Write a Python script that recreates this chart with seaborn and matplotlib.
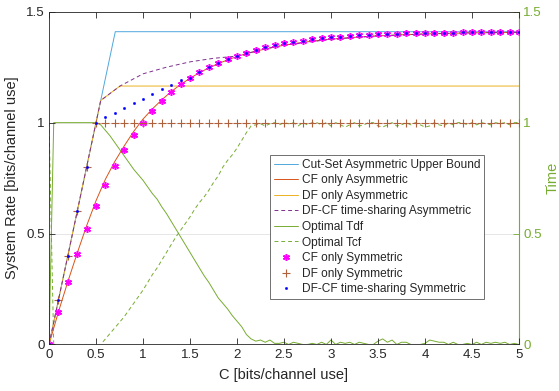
import matplotlib
matplotlib.use("Agg")
import matplotlib.pyplot as plt
import seaborn as sns

sns.set_style("ticks")
plt.rcParams["font.family"] = ["Liberation Sans", "DejaVu Sans"]

# ---- asymmetric bounds (rate vs. capacity C) ----
cut_c = [0, 0.705, 5.0]
cut_rate = [0, 1.41, 1.41]

df_c = [0, 0.55, 0.755, 5.0]
df_rate = [0, 1.10, 1.165, 1.165]

dfcf_c = [0, 0.55, 0.755, 1.0, 1.25, 1.5, 1.75, 2.0, 2.1, 2.2, 2.3, 2.4,
          2.5, 3.0, 3.5, 4.0, 4.5, 5.0]
dfcf_rate = [0, 1.10, 1.165, 1.22, 1.25, 1.274, 1.29, 1.300, 1.311, 1.322,
             1.332, 1.341, 1.349, 1.376, 1.391, 1.400, 1.405, 1.407]

# ---- values on a 0.1 grid of C ----
c_grid = [round(0.1 * i, 1) for i in range(51)]

cf_asym = [0, 0.147, 0.283, 0.412, 0.535, 0.648, 0.745, 0.825, 0.895, 0.96,
           1.016, 1.062, 1.103, 1.14, 1.172, 1.2, 1.225, 1.247, 1.266, 1.283,
           1.298, 1.311, 1.322, 1.332, 1.341, 1.349, 1.356, 1.362, 1.367, 1.372,
           1.376, 1.38, 1.383, 1.386, 1.389, 1.391, 1.393, 1.395, 1.397, 1.398,
           1.4, 1.401, 1.402, 1.403, 1.404, 1.405, 1.405, 1.406, 1.406, 1.407,
           1.407]

cf_sym = [0, 0.147, 0.281, 0.407, 0.52, 0.625, 0.721, 0.804, 0.876, 0.943,
          1.0, 1.052, 1.099, 1.139, 1.172, 1.203, 1.228, 1.250, 1.270, 1.287,
          1.302, 1.316, 1.328, 1.339, 1.349, 1.357, 1.364, 1.370, 1.376, 1.381,
          1.385, 1.388, 1.391, 1.394, 1.396, 1.398, 1.400, 1.401, 1.402, 1.403,
          1.404, 1.405, 1.406, 1.406, 1.407, 1.407, 1.408, 1.408, 1.409, 1.409,
          1.41]

df_sym = [0, 0.2, 0.4, 0.6, 0.8, 1, 1, 1, 1, 1,
          1, 1, 1, 1, 1, 1, 1, 1, 1, 1,
          1, 1, 1, 1, 1, 1, 1, 1, 1, 1,
          1, 1, 1, 1, 1, 1, 1, 1, 1, 1,
          1, 1, 1, 1, 1, 1, 1, 1, 1, 1,
          1]

dfcf_sym = [0, 0.2, 0.4, 0.6, 0.8, 1.0, 1.024, 1.045, 1.067, 1.087,
            1.108, 1.129, 1.150, 1.169, 1.191, 1.203, 1.228, 1.250, 1.270, 1.287,
            1.302, 1.316, 1.328, 1.339, 1.349, 1.357, 1.364, 1.370, 1.376, 1.381,
            1.385, 1.388, 1.391, 1.394, 1.396, 1.398, 1.400, 1.401, 1.402, 1.403,
            1.404, 1.405, 1.406, 1.406, 1.407, 1.407, 1.408, 1.408, 1.409, 1.409,
            1.41]

# ---- optimal time fractions on a 0.05 grid of C ----
c_time = [round(0.05 * i, 2) for i in range(101)]

t_df = [0, 1, 1, 1, 1, 1, 1, 1, 1, 1,
        1, 0.99, 0.965, 0.94, 0.91, 0.88, 0.85, 0.82, 0.79, 0.765,
        0.74, 0.71, 0.68, 0.655, 0.62, 0.59, 0.555, 0.52, 0.485, 0.45,
        0.415, 0.38, 0.345, 0.31, 0.28, 0.245, 0.21, 0.185, 0.16, 0.13,
        0.105, 0.08, 0.045, 0.025, 0.015, 0.02, 0.01, 0.02, 0.005, 0.005,
        0.01, 0.0, 0.01, 0.005, 0.0, 0.0, 0.005, 0.0, 0.01, 0.0,
        0.02, 0.0, 0.01, 0.005, 0.01, 0.0, 0.01, 0.005, 0.0, 0.0,
        0.015, 0.025, 0.01, 0.02, 0.0, 0.01, 0.01, 0.0, 0.0, 0.0,
        0.005, 0.02, 0.015, 0.01, 0.01, 0.0, 0.01, 0.0, 0.0, 0.005,
        0.0, 0.01, 0.0, 0.01, 0.005, 0.01, 0.005, 0.01, 0.0, 0.005,
        0.0]

t_cf = [1, 0, 0, 0, 0, 0, 0, 0, 0, 0,
        0, 0, 0.025, 0.05, 0.075, 0.1, 0.125, 0.155, 0.185, 0.215,
        0.245, 0.28, 0.315, 0.345, 0.38, 0.415, 0.45, 0.485, 0.515, 0.545,
        0.575, 0.61, 0.64, 0.665, 0.695, 0.73, 0.76, 0.8, 0.83, 0.855,
        0.885, 0.92, 0.955, 0.985, 0.99, 0.995, 0.985, 0.995, 1.0, 0.99,
        1.0, 0.995, 1.0, 0.985, 1.0, 0.99, 1.0, 1.0, 0.99, 1.0,
        0.985, 1.0, 0.99, 0.98, 0.99, 1.0, 0.985, 0.99, 1.0, 1.0,
        0.985, 0.98, 0.99, 1.0, 0.985, 0.99, 1.0, 0.99, 1.0, 0.99,
        0.98, 0.985, 1.0, 0.99, 0.985, 1.0, 0.99, 1.0, 1.0, 0.99,
        1.0, 0.99, 1.0, 0.995, 0.99, 1.0, 0.995, 1.0, 0.99, 1.0,
        1.0]

labels = ["Cut-Set Asymmetric Upper Bound", "CF only Asymmetric",
          "DF only Asymmetric", "DF-CF time-sharing Asymmetric",
          "Optimal Tdf", "Optimal Tcf", "CF only Symmetric",
          "DF only Symmetric", "DF-CF time-sharing Symmetric"]

AX_COLOR = "#262626"
GREEN = "#77AC30"
MAGENTA = "#FF00FF"
PLUS_COLOR = "#B0603A"
BLUE = "#0000FF"
LW = 0.7
DASH = (0, (4, 3))

fig = plt.figure(figsize=(5.59, 3.91), dpi=100)
ax = fig.add_axes([0.0877, 0.119, 0.8407, 0.851])
ax2 = ax.twinx()
ax.set_zorder(ax2.get_zorder() + 1)
ax.patch.set_visible(False)

# right axis: time fractions
sns.lineplot(x=c_time, y=t_df, ax=ax2, color=GREEN, lw=LW, sort=False,
             estimator=None, label=labels[4])
sns.lineplot(x=c_time, y=t_cf, ax=ax2, color=GREEN, lw=LW, sort=False,
             estimator=None, linestyle=DASH, label=labels[5])

# left axis: rates
sns.lineplot(x=cut_c, y=cut_rate, ax=ax, color="#4FA8DC", lw=LW,
             estimator=None, label=labels[0])
sns.lineplot(x=c_grid, y=cf_asym, ax=ax, color="#D95319", lw=LW,
             estimator=None, label=labels[1])
sns.lineplot(x=df_c, y=df_rate, ax=ax, color="#EDB120", lw=LW,
             estimator=None, label=labels[2])
sns.lineplot(x=dfcf_c, y=dfcf_rate, ax=ax, color="#7E2F8E", lw=LW,
             estimator=None, linestyle=DASH, label=labels[3])
sns.lineplot(x=c_grid, y=cf_sym, ax=ax, color=MAGENTA, linestyle="none",
             marker=(6, 2, 0), markersize=5, markeredgewidth=1.1,
             markeredgecolor=MAGENTA, estimator=None, label=labels[6])
sns.lineplot(x=c_grid, y=df_sym, ax=ax, color=PLUS_COLOR, linestyle="none",
             marker="+", markersize=5.5, markeredgewidth=0.8,
             markeredgecolor=PLUS_COLOR, estimator=None, label=labels[7])
sns.lineplot(x=c_grid, y=dfcf_sym, ax=ax, color=BLUE, linestyle="none",
             marker=".", markersize=3.2, markeredgewidth=0.4,
             markeredgecolor=BLUE, estimator=None, label=labels[8])

for a in (ax, ax2):
    leg = a.get_legend()
    if leg is not None:
        leg.remove()

ticks_y = [0, 0.5, 1, 1.5]
tick_labels_y = ["0", "0.5", "1", "1.5"]
ticks_x = [0, 0.5, 1, 1.5, 2, 2.5, 3, 3.5, 4, 4.5, 5]
tick_labels_x = ["0", "0.5", "1", "1.5", "2", "2.5", "3", "3.5", "4", "4.5", "5"]

ax.set_xlim(0, 5)
ax.set_ylim(0, 1.5)
ax2.set_ylim(0, 1.5)
ax.set_xticks(ticks_x, tick_labels_x)
ax.set_yticks(ticks_y, tick_labels_y)
ax2.set_yticks(ticks_y, tick_labels_y)

ax.set_xlabel("C [bits/channel use]", fontsize=10.5, color=AX_COLOR, labelpad=5)
ax.set_ylabel("System Rate [bits/channel use]", fontsize=10.5, color=AX_COLOR,
              labelpad=5)
ax2.set_ylabel("Time", fontsize=10.5, color=GREEN, labelpad=3)

ax.tick_params(axis="both", direction="in", length=4, width=0.6,
               labelsize=9.6, colors=AX_COLOR, top=True, right=False, pad=3)
ax2.tick_params(axis="y", direction="in", length=4, width=0.6,
                labelsize=9.6, colors=GREEN, pad=3)
ax2.tick_params(axis="x", top=False, bottom=False)

ax2.grid(True, color="#E2E2E2", lw=0.6)
ax2.set_axisbelow(True)

for side in ("left", "bottom", "top"):
    ax.spines[side].set_color(AX_COLOR)
    ax.spines[side].set_linewidth(0.6)
    ax2.spines[side].set_visible(False)
ax.spines["right"].set_visible(False)
ax2.spines["right"].set_color(GREEN)
ax2.spines["right"].set_linewidth(0.8)

h1, l1 = ax.get_legend_handles_labels()
h2, l2 = ax2.get_legend_handles_labels()
lookup = dict(zip(l1 + l2, h1 + h2))
leg = ax.legend([lookup[l] for l in labels], labels, loc="upper right",
                bbox_to_anchor=(0.926, 0.569), fontsize=8.6, frameon=True,
                fancybox=False, edgecolor="#5A5A5A", framealpha=1,
                handlelength=2.0, handletextpad=0.35, labelspacing=0.3,
                borderpad=0.3, borderaxespad=0)
leg.get_frame().set_linewidth(0.6)

fig.savefig("out.png", dpi=100)
